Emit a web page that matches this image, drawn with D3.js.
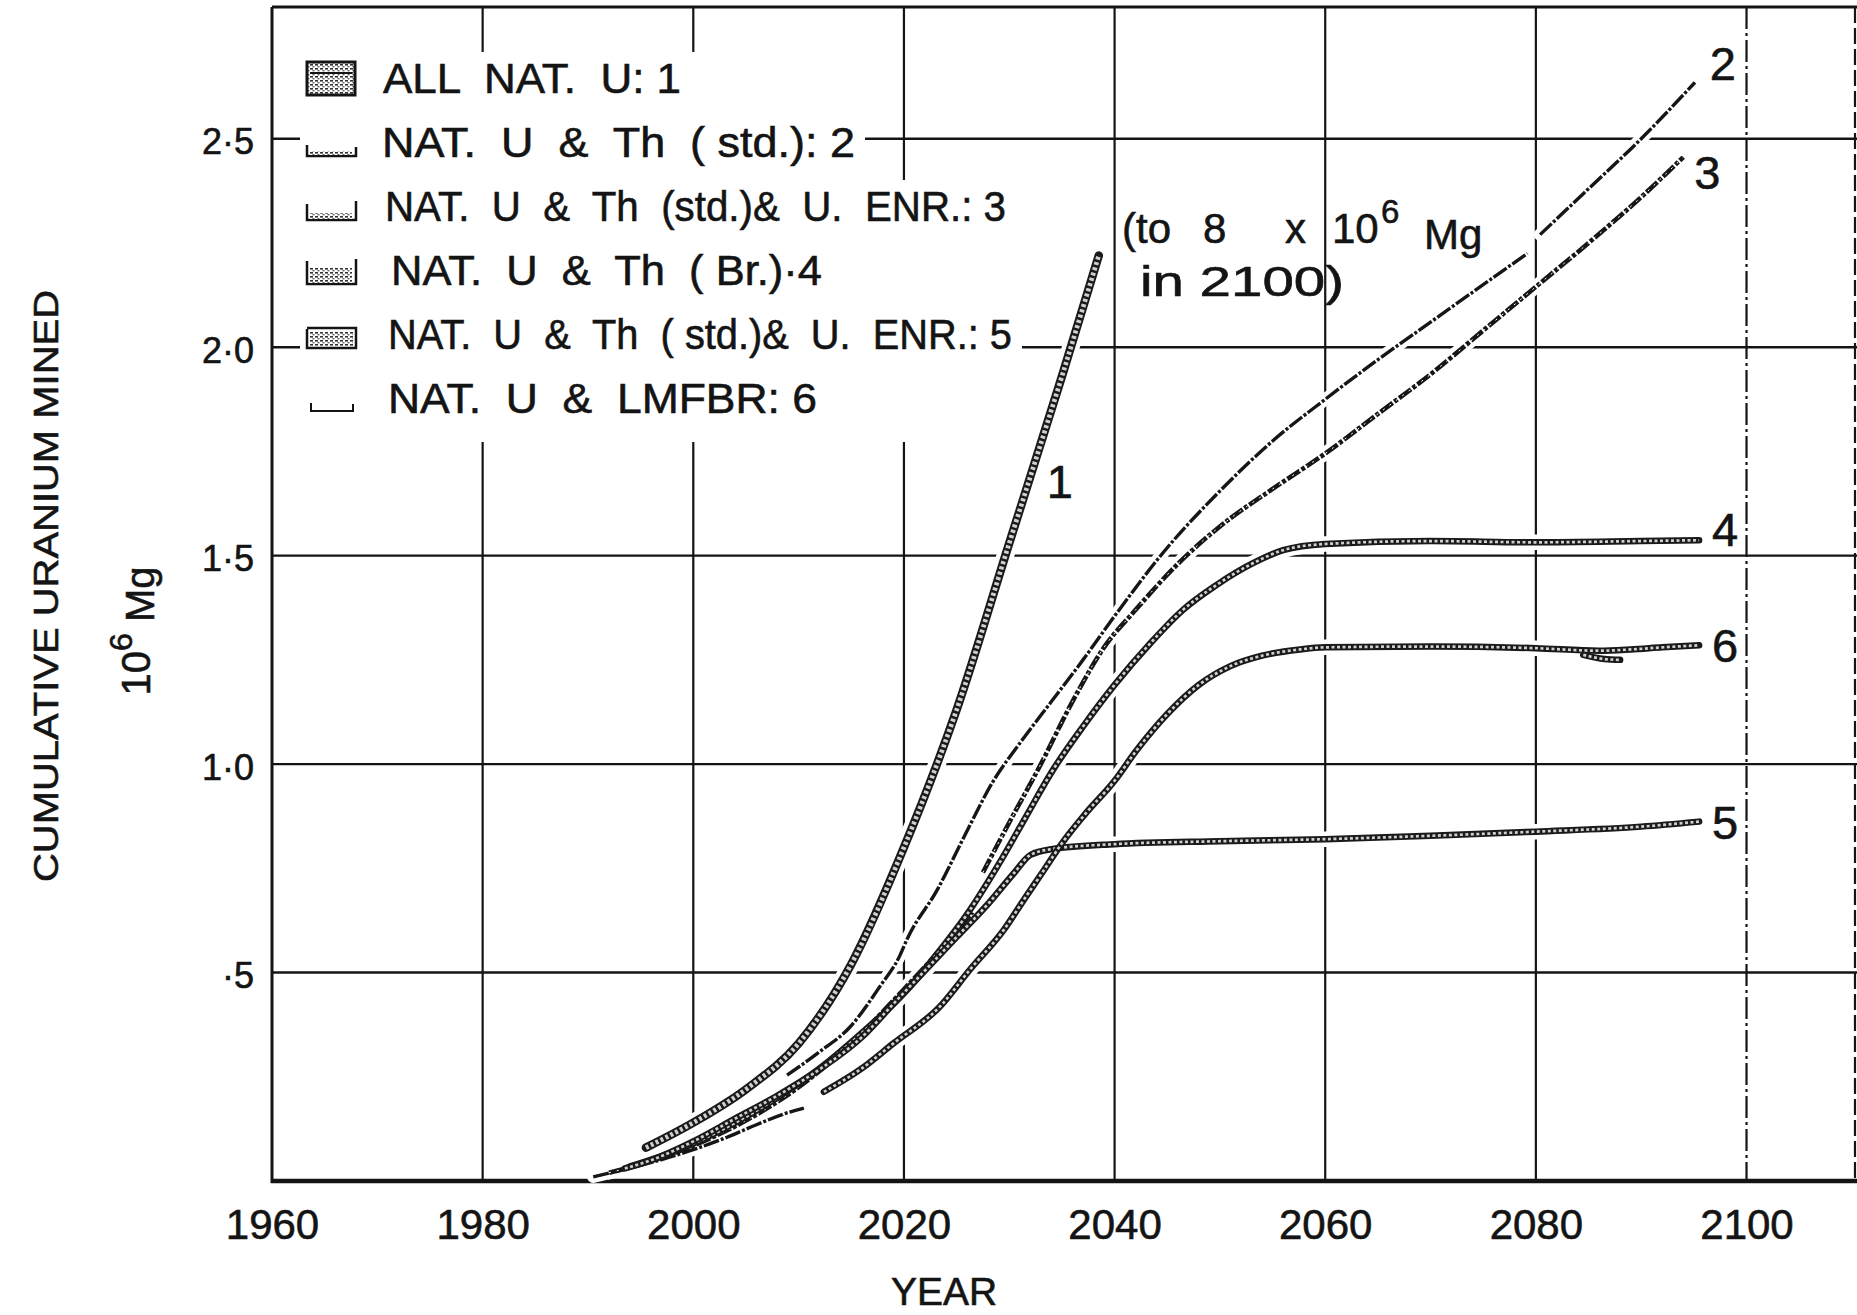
<!DOCTYPE html>
<html>
<head>
<meta charset="utf-8">
<script src="https://cdn.jsdelivr.net/npm/d3@7"></script>
<style>
  body { margin: 0; background: #fff; }
  svg { display: block; }
  text { font-family: "Liberation Sans", Arial, sans-serif; fill: #141414; white-space: pre;
         stroke: #141414; stroke-width: 0.6px; }
</style>
</head>
<body>
<svg id="chart" width="1857" height="1315"></svg>
<script>
// ---- data -------------------------------------------------------------
const yearTicks = [1960, 1980, 2000, 2020, 2040, 2060, 2080, 2100];
const valueTicks = [0.5, 1.0, 1.5, 2.0, 2.5];
const valueTickLabels = ["·5", "1·0", "1·5", "2·0", "2·5"];

const legendLabels = [
  "ALL  NAT.  U: 1",
  "NAT.  U  &  Th  ( std.): 2",
  "NAT.  U  &  Th  (std.)&  U.  ENR.: 3",
  "NAT.  U  &  Th  ( Br.)·4",
  "NAT.  U  &  Th  ( std.)&  U.  ENR.: 5",
  "NAT.  U  &  LMFBR: 6"
];

// cumulative uranium mined, 10^6 Mg, as [year, value]
const curve1 = [[1995.5,0.08],[2000,0.14],[2005,0.22],[2010,0.33],[2015,0.52],[2020,0.80],
  [2025,1.13],[2030,1.53],[2035,1.93],[2038.5,2.22]];

const curve2a = [[1990.5,0.01],[1993,0.025],[1996.8,0.05],[2000,0.075],[2003.2,0.105],
  [2006,0.135],[2008.5,0.16],[2010.5,0.175]];
const curve2b = [[2008.9,0.254],[2012,0.31],[2014.9,0.37],[2017.7,0.466],[2019.6,0.54],
  [2020.3,0.58],[2023.2,0.70],[2025.7,0.825],[2028.5,0.96],[2031,1.05],[2034,1.15],
  [2037,1.25],[2040,1.355],[2044.7,1.51],[2050,1.655],[2055,1.775],[2060,1.875],[2065,1.97],
  [2070,2.06],[2075,2.15],[2079.2,2.225]];
const curve2c = [[2080.4,2.27],[2085,2.38],[2090,2.5],[2095.1,2.635]];

const curve3a = [[1992,0.02],[1995,0.04],[2000,0.085],[2005,0.145],[2010,0.225],[2015,0.33],
  [2020,0.46],[2024,0.57],[2026.5,0.645]];
const curve3b = [[2027.5,0.74],[2030,0.86],[2033,1.0],[2036,1.15],[2039,1.28],[2042,1.37],
  [2046,1.48],[2050,1.57],[2055,1.66],[2060,1.745],[2065,1.84],[2070,1.935],[2075,2.04],
  [2080,2.145],[2085,2.25],[2090,2.36],[2094,2.456]];

const curve4 = [[1994,0.035],[1997,0.06],[2000,0.09],[2004,0.14],[2008,0.2],[2012,0.27],
  [2016,0.355],[2020,0.45],[2023,0.54],[2026,0.64],[2029,0.76],[2031.5,0.87],[2034,0.98],
  [2037,1.09],[2040,1.19],[2043.4,1.29],[2046.5,1.37],[2049.7,1.43],[2053,1.48],[2056,1.513],
  [2060,1.528],[2070,1.535],[2080,1.532],[2090,1.535],[2095.5,1.537]];

const curve5 = [[1993.5,0.03],[1996,0.05],[2000,0.095],[2004,0.15],[2008,0.205],[2012,0.268],
  [2016,0.345],[2019,0.425],[2022,0.505],[2025,0.585],[2028,0.665],[2030.5,0.74],[2032,0.782],
  [2034,0.796],[2040,0.808],[2050,0.815],[2060,0.82],[2070,0.828],[2080,0.838],[2090,0.85],
  [2095.5,0.862]];

const curve6 = [[2012.4,0.214],[2016,0.27],[2019,0.33],[2023.4,0.418],[2026.3,0.508],
  [2029.5,0.603],[2031.4,0.675],[2033.3,0.746],[2035,0.81],[2037.2,0.88],[2040,0.96],
  [2042,1.03],[2045,1.12],[2048,1.19],[2051,1.235],[2054,1.26],[2057.6,1.275],[2060,1.28],
  [2070,1.282],[2080,1.278],[2086,1.272],[2089,1.275],[2092,1.28],[2095.5,1.285]];
const curve6tail = [[2084.5,1.262],[2086.5,1.252],[2088,1.25]];

// label "1" sits beside its curve rather than at its end
const curveOneLabel = [2034.8, 1.68];

// ---- layout -----------------------------------------------------------
const svg = d3.select("#chart");
const x = d3.scaleLinear().domain([1960, 2110.3]).range([272, 1855]);
const y = d3.scaleLinear().domain([0, 2.816]).range([1181, 7]);
const ink = "#141414";

const series = [
  { id: "1", segments: [curve1], end: curve1, kind: "band", width: 8.5 },
  { id: "2", segments: [curve2a, curve2b, curve2c], end: curve2c, kind: "dash", width: 3.4 },
  { id: "3", segments: [curve3a, curve3b], end: curve3b, kind: "thinband", width: 4.6 },
  { id: "4", segments: [curve4], end: curve4, kind: "band", width: 6.5 },
  { id: "5", segments: [curve5], end: curve5, kind: "band", width: 6.5 },
  { id: "6", segments: [curve6, curve6tail], end: curve6, kind: "band", width: 6.5 }
];
const endLabelOffset = { "2": [28, -19], "3": [24, 15], "4": [26, -11], "5": [26, 0], "6": [26, 0] };

// hatch used inside the legend swatches
const defs = svg.append("defs");
const pat = defs.append("pattern").attr("id", "hatch").attr("patternUnits", "userSpaceOnUse")
  .attr("width", 5).attr("height", 4);
pat.append("rect").attr("width", 5).attr("height", 4).attr("fill", "#fff");
pat.append("rect").attr("x", 0).attr("y", 0).attr("width", 3).attr("height", 1.6).attr("fill", "#333");
pat.append("rect").attr("x", 2.5).attr("y", 2).attr("width", 2).attr("height", 1.4).attr("fill", "#666");

// ---- grid -------------------------------------------------------------
const grid = svg.append("g");
grid.selectAll("line.v").data(yearTicks.filter(d => d > 1960)).join("line")
  .attr("x1", d => x(d)).attr("x2", d => x(d))
  .attr("y1", y.range()[1]).attr("y2", y.range()[0])
  .attr("stroke", ink).attr("stroke-width", 2.2)
  .attr("stroke-dasharray", d => d === 2100 ? "22 4 3 4" : null);
grid.selectAll("line.h").data(valueTicks).join("line")
  .attr("x1", x.range()[0]).attr("x2", 1857)
  .attr("y1", d => y(d)).attr("y2", d => y(d))
  .attr("stroke", ink).attr("stroke-width", 2.4);

// frame
svg.append("line").attr("x1", x.range()[0]).attr("x2", 1857).attr("y1", y.range()[1]).attr("y2", y.range()[1])
  .attr("stroke", ink).attr("stroke-width", 3);
svg.append("line").attr("x1", x.range()[1]).attr("x2", x.range()[1]).attr("y1", y.range()[1]).attr("y2", y.range()[0])
  .attr("stroke", ink).attr("stroke-width", 2.2).attr("stroke-dasharray", "16 5");
svg.append("line").attr("x1", x.range()[0]).attr("x2", x.range()[0]).attr("y1", y.range()[1]).attr("y2", y.range()[0] + 2)
  .attr("stroke", ink).attr("stroke-width", 3);
svg.append("line").attr("x1", x.range()[0] - 1).attr("x2", 1857).attr("y1", y.range()[0]).attr("y2", y.range()[0])
  .attr("stroke", ink).attr("stroke-width", 4.5);

// ---- legend backdrop (the legend sits on top of the grid) --------------
const mask = svg.append("g").attr("fill", "#fff");
mask.append("rect").attr("x", 300).attr("y", 52).attr("width", 395).attr("height", 64);
mask.append("rect").attr("x", 300).attr("y", 116).attr("width", 565).attr("height", 64);
mask.append("rect").attr("x", 300).attr("y", 180).attr("width", 722).attr("height", 262);

// ---- curves -----------------------------------------------------------
const line = d3.line().x(d => x(d[0])).y(d => y(d[1])).curve(d3.curveMonotoneX);
const halo = svg.append("g");
const marks = svg.append("g");
series.forEach(s => {
  s.segments.forEach(seg => {
    halo.append("path").attr("d", line(seg)).attr("fill", "none")
      .attr("stroke", "#fff").attr("stroke-width", s.width + 9).attr("stroke-linecap", "round");
  });
});
series.forEach(s => {
  s.segments.forEach(seg => {
    const d = line(seg);
    if (s.kind === "band") {
      marks.append("path").attr("d", d).attr("fill", "none").attr("stroke", "#1a1a1a")
        .attr("stroke-width", s.width).attr("stroke-linecap", "round");
      marks.append("path").attr("d", d).attr("fill", "none").attr("stroke", "#cfcfcf")
        .attr("stroke-width", s.width - 3.8).attr("stroke-dasharray", "3 2.5");
    } else if (s.kind === "thinband") {
      marks.append("path").attr("d", d).attr("fill", "none").attr("stroke", "#161616")
        .attr("stroke-width", s.width).attr("stroke-dasharray", "15 2 4 2");
      marks.append("path").attr("d", d).attr("fill", "none").attr("stroke", "#fff")
        .attr("stroke-width", 1).attr("stroke-dasharray", "2 6");
    } else {
      marks.append("path").attr("d", d).attr("fill", "none").attr("stroke", "#161616")
        .attr("stroke-width", s.width).attr("stroke-dasharray", "16 2 3 2");
    }
  });
});

// curve numbers
const labels = svg.append("g").style("font-size", "47px").attr("text-anchor", "middle");
labels.append("text").attr("x", x(curveOneLabel[0])).attr("y", y(curveOneLabel[1])).attr("dy", "0.36em").text("1");
series.filter(s => s.id !== "1").forEach(s => {
  const p = s.end[s.end.length - 1];
  const off = endLabelOffset[s.id];
  labels.append("text").attr("x", x(p[0]) + off[0]).attr("y", y(p[1]) + off[1]).attr("dy", "0.36em").text(s.id);
});

// ---- axes -------------------------------------------------------------
const xAxis = svg.append("g").attr("transform", `translate(0,${y.range()[0]})`)
  .call(d3.axisBottom(x).tickValues(yearTicks).tickSize(0).tickPadding(28).tickFormat(d3.format("d")));
xAxis.select(".domain").remove();
xAxis.selectAll("text").style("font-size", "42px").style("font-family", "'Liberation Sans', Arial, sans-serif")
  .attr("fill", ink);

const yAxis = svg.append("g").attr("transform", `translate(${x.range()[0]},0)`)
  .call(d3.axisLeft(y).tickValues(valueTicks).tickSize(0).tickPadding(18)
    .tickFormat((d, i) => valueTickLabels[i]));
yAxis.select(".domain").remove();
yAxis.selectAll("text").style("font-size", "36px").style("font-family", "'Liberation Sans', Arial, sans-serif")
  .attr("fill", ink).attr("dy", "0.42em");

// axis titles
svg.append("text").attr("x", 944).attr("y", 1305).attr("text-anchor", "middle")
  .attr("textLength", 106).attr("lengthAdjust", "spacingAndGlyphs").style("font-size", "38px").text("YEAR");
svg.append("text").attr("transform", "translate(58,586) rotate(-90)").attr("text-anchor", "middle")
  .attr("textLength", 592).attr("lengthAdjust", "spacingAndGlyphs").style("font-size", "35px")
  .text("CUMULATIVE URANIUM MINED");
const unit = svg.append("text").attr("transform", "translate(150,631) rotate(-90)").attr("text-anchor", "middle")
  .style("font-size", "40px");
unit.append("tspan").text("10");
unit.append("tspan").attr("dy", "-0.55em").style("font-size", "32px").text("6");
unit.append("tspan").attr("dy", "0.55em").text(" Mg");

// ---- legend -----------------------------------------------------------
const rowBase = [93, 157, 221, 285, 349, 413];
const rowStart = [383, 382, 385, 391, 388, 388];
const rowLen = [298, 473, 621, 431, 624, 429];
const legend = svg.append("g");
legendLabels.forEach((t, i) => {
  legend.append("text").attr("x", rowStart[i]).attr("y", rowBase[i])
    .attr("textLength", rowLen[i]).attr("lengthAdjust", "spacingAndGlyphs")
    .style("font-size", "42px").text(t);
});
// swatches: small samples of each curve treatment
const sw = legend.append("g").attr("fill", "none").attr("stroke", ink).attr("stroke-width", 2.5);
let b = rowBase[0];
sw.append("rect").attr("x", 307).attr("y", b - 31).attr("width", 48).attr("height", 33).attr("fill", "url(#hatch)").attr("stroke-width", 3);
sw.append("line").attr("x1", 310).attr("x2", 352).attr("y1", b - 20).attr("y2", b - 20).attr("stroke-width", 2);
b = rowBase[1];
sw.append("path").attr("d", `M307,${b - 12} v11 h49 v-9`);
sw.append("rect").attr("x", 310).attr("y", b - 6).attr("width", 42).attr("height", 4).attr("fill", "url(#hatch)").attr("stroke", "none");
b = rowBase[2];
sw.append("path").attr("d", `M307,${b - 17} v16 h49 v-19`);
sw.append("rect").attr("x", 310).attr("y", b - 8).attr("width", 42).attr("height", 6).attr("fill", "url(#hatch)").attr("stroke", "none");
b = rowBase[3];
sw.append("path").attr("d", `M307,${b - 24} v23 h49 v-25`);
sw.append("rect").attr("x", 310).attr("y", b - 17).attr("width", 42).attr("height", 15).attr("fill", "url(#hatch)").attr("stroke", "none");
b = rowBase[4];
sw.append("path").attr("d", `M307,${b - 20} v19 h49 v-20 h-49`);
sw.append("rect").attr("x", 310).attr("y", b - 17).attr("width", 43).attr("height", 14).attr("fill", "url(#hatch)").attr("stroke", "none");
b = rowBase[5];
sw.append("path").attr("d", `M311,${b - 10} v8 h42 v-7`).attr("stroke-width", 2);

// ---- annotation -------------------------------------------------------
const note = svg.append("g").style("font-size", "42px");
const n1 = note.append("text").attr("y", 243);
n1.append("tspan").attr("x", 1122).text("(to");
n1.append("tspan").attr("x", 1203).text("8");
n1.append("tspan").attr("x", 1285).text("x");
n1.append("tspan").attr("x", 1332).text("10");
n1.append("tspan").attr("x", 1381).attr("dy", "-0.62em").style("font-size", "33px").text("6");
n1.append("tspan").attr("x", 1424).attr("dy", "0.62em").text("Mg");
note.append("text").attr("x", 1140).attr("y", 296).attr("textLength", 204)
  .attr("lengthAdjust", "spacingAndGlyphs").text("in 2100)");
</script>
</body>
</html>
